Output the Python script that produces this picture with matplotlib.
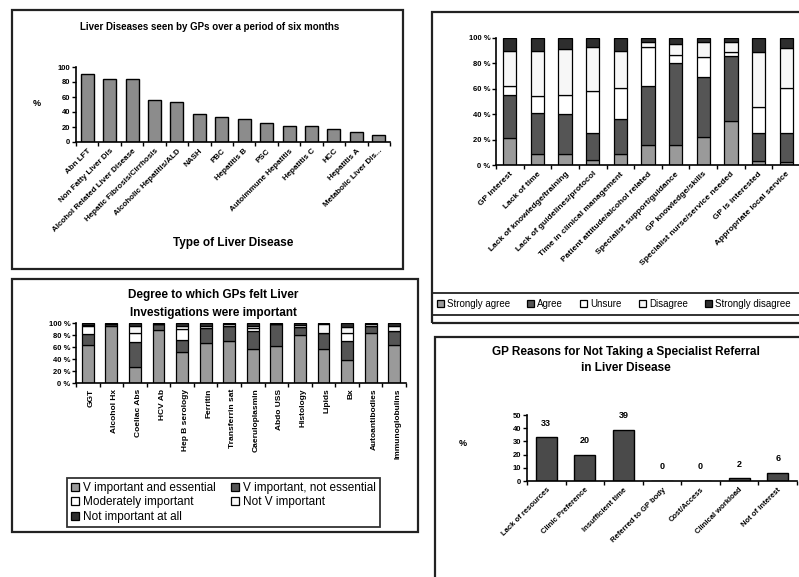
import numpy as np
import matplotlib.pyplot as plt
from matplotlib.patches import Rectangle, Patch

plt.rcParams['font.family'] = ['Liberation Sans', 'DejaVu Sans']

W, H = 799, 577

# panel 1: liver diseases seen
disease_labels = ['Abn LFT', 'Non Fatty Liver Dis', 'Alcohol Related Liver Disease',
                  'Hepatic Fibrosis/Cirrhosis', 'Alcoholic Hepatitis/ALD', 'NASH', 'PBC',
                  'Hepatitis B', 'PSC', 'Autoimmune Hepatitis', 'Hepatitis C', 'HCC',
                  'Hepatitis A', 'Metabolic Liver Dis...']
disease_pct = [91, 84, 84, 56, 54, 38, 34, 31, 26, 21, 21, 17, 13, 9]

# panel 2: agreement with statements
stmt_labels = ['GP interest', 'Lack of time', 'Lack of knowledge/training',
               'Lack of guidelines/protocol', 'Time in clinical management',
               'Patient attitude/alcohol related', 'Specialist support/guidance',
               'GP knowledge/skills', 'Specialist nurse/service needed',
               'GP is interested', 'Appropriate local service']
agree_levels = ['Strongly agree', 'Agree', 'Unsure', 'Disagree', 'Strongly disagree']
strongly_agree = [21, 9, 9, 4, 9, 16, 16, 22, 35, 3, 2]
agree = [34, 32, 31, 21, 27, 46, 64, 47, 51, 22, 23]
unsure = [7, 13, 15, 33, 25, 31, 7, 16, 3, 21, 36]
disagree = [28, 36, 36, 35, 29, 4, 8, 12, 8, 43, 31]
strongly_disagree = [10, 10, 9, 7, 10, 3, 5, 3, 3, 11, 8]

# panel 3: importance of investigations
invest_labels = ['GGT', 'Alcohol Hx', 'Coeliac Abs', 'HCV Ab', 'Hep B serology',
                 'Ferritin', 'Transferrin sat', 'Caeruloplasmin', 'Abdo USS',
                 'Histology', 'Lipids', 'Bx', 'Autoantibodies', 'Immunoglobulins']
imp_levels = ['V important and essential', 'V important, not essential',
              'Moderately important', 'Not V important', 'Not important at all']
v_essential = [64, 95, 27, 89, 51, 67, 70, 57, 61, 80, 57, 39, 84, 64]
v_not_essential = [17, 3, 42, 9, 21, 24, 25, 29, 37, 13, 26, 31, 11, 22]
moderately = [14, 0, 15, 0, 18, 0, 0, 5, 0, 0, 0, 14, 0, 0]
not_v = [2, 0, 11, 0, 5, 4, 3, 4, 0, 4, 15, 9, 3, 9]
not_at_all = [3, 2, 5, 2, 5, 5, 2, 5, 2, 3, 2, 7, 2, 5]

# panel 4: reasons for not referring
reason_labels = ['Lack of resources', 'Clinic Preference', 'Insufficient time',
                 'Referred to GP body', 'Cost/Access', 'Clinical workload',
                 'Not of interest']
reason_pct = [33, 20, 39, 0, 0, 2, 6]

LIGHT = '#9a9a9a'
DARK = '#555555'
BLACK = '#2e2e2e'

fig = plt.figure(figsize=(W / 100, H / 100), dpi=100)


def px_axes(x0, y0, x1, y1):
    return fig.add_axes([x0 / W, 1 - y1 / H, (x1 - x0) / W, (y1 - y0) / H])


def px_box(x0, y0, x1, y1, lw=1.6):
    fig.add_artist(Rectangle((x0 / W, 1 - y1 / H), (x1 - x0) / W, (y1 - y0) / H,
                             transform=fig.transFigure, fill=False, lw=lw, ec='#222222'))


def px_text(x, y, s, **kw):
    fig.text(x / W, 1 - y / H, s, **kw)


def excel_axes(ax, labels, rot, size, ha='right'):
    n = len(labels)
    for s in ['top', 'right']:
        ax.spines[s].set_visible(False)
    for s in ['left', 'bottom']:
        ax.spines[s].set_linewidth(1.2)
    ax.set_xlim(0, n)
    ax.set_xticks(np.arange(n + 1))
    ax.set_xticklabels([])
    ax.set_xticks(np.arange(n) + 0.5, minor=True)
    ax.set_xticklabels(labels, minor=True, rotation=rot, ha=ha,
                       rotation_mode='anchor', fontsize=size, fontweight='bold')
    ax.tick_params(axis='x', which='minor', length=0, pad=4)
    ax.tick_params(axis='x', which='major', length=3, direction='out', width=1)
    ax.tick_params(axis='y', length=3, direction='out', width=1, pad=1)


# ---------- panel 1 ----------
px_box(12, 10, 403, 269)
ax1 = px_axes(76, 67, 390, 142)
x = np.arange(len(disease_pct)) + 0.5
ax1.bar(x, disease_pct, width=0.58, color='#8c8c8c', edgecolor='black', lw=1)
excel_axes(ax1, disease_labels, 45, 5.8)
ax1.set_ylim(0, 100)
ax1.set_yticks(range(0, 101, 20))
ax1.set_yticklabels([str(v) for v in range(0, 101, 20)], fontsize=5.5, fontweight='bold')
px_text(210, 27, 'Liver Diseases seen by GPs over a period of six months',
        ha='center', va='center', fontsize=7, fontweight='bold')
px_text(37, 103, '%', ha='center', va='center', fontsize=6.5, fontweight='bold')
px_text(233, 243, 'Type of Liver Disease', ha='center', va='center',
        fontsize=8.5, fontweight='bold')

# ---------- panel 2 ----------
px_box(432, 12, 830, 323)
px_box(432, 293, 830, 315, lw=1.3)
ax2 = px_axes(496, 38, 800, 165)
x = np.arange(len(stmt_labels)) + 0.5
series2 = [strongly_agree, agree, unsure, disagree, strongly_disagree]
colors2 = [LIGHT, DARK, 'white', '#f7f7f7', BLACK]
bottom = np.zeros(len(stmt_labels))
for vals, col, lab in zip(series2, colors2, agree_levels):
    ax2.bar(x, vals, bottom=bottom, width=0.48, color=col, edgecolor='black',
            lw=0.9, label=lab)
    bottom += np.array(vals)
excel_axes(ax2, stmt_labels, 45, 6)
ax2.set_ylim(0, 100)
ax2.set_yticks(range(0, 101, 20))
ax2.set_yticklabels([f'{v} %' for v in range(0, 101, 20)], fontsize=5.5, fontweight='bold')
h2, l2 = ax2.get_legend_handles_labels()
fig.legend(h2, l2, loc='center left', bbox_to_anchor=(437 / W, 1 - 304 / H), ncol=5,
           frameon=False, fontsize=7, handlelength=0.7, handleheight=0.7,
           handletextpad=0.3, columnspacing=1.8, borderaxespad=0, borderpad=0)

# ---------- panel 3 ----------
px_box(12, 279, 418, 532)
ax3 = px_axes(76, 323, 406, 383)
x = np.arange(len(invest_labels)) + 0.5
series3 = [v_essential, v_not_essential, moderately, not_v, not_at_all]
colors3 = [LIGHT, DARK, 'white', '#f7f7f7', BLACK]
bottom = np.zeros(len(invest_labels))
for vals, col, lab in zip(series3, colors3, imp_levels):
    ax3.bar(x, vals, bottom=bottom, width=0.5, color=col, edgecolor='black',
            lw=0.9, label=lab)
    bottom += np.array(vals)
excel_axes(ax3, invest_labels, 90, 6)
ax3.set_ylim(0, 100)
ax3.set_yticks(range(0, 101, 20))
ax3.set_yticklabels([f'{v} %' for v in range(0, 101, 20)], fontsize=5.5, fontweight='bold')
px_text(213, 295, 'Degree to which GPs felt Liver', ha='center', va='center',
        fontsize=8.5, fontweight='bold')
px_text(213, 313, 'Investigations were important', ha='center', va='center',
        fontsize=8.5, fontweight='bold')
h3, l3 = ax3.get_legend_handles_labels()
order = [0, 2, 4, 1, 3]
leg3 = fig.legend([h3[i] for i in order], [l3[i] for i in order], loc='upper left',
                  bbox_to_anchor=(67 / W, 1 - 478 / H), ncol=2, fontsize=8.5,
                  frameon=True, fancybox=False, edgecolor='black',
                  handlelength=0.7, handleheight=0.7, handletextpad=0.3,
                  columnspacing=1.3, borderpad=0.35, labelspacing=0.2, borderaxespad=0)
leg3.get_frame().set_linewidth(1.3)

# ---------- panel 4 ----------
px_box(435, 337, 830, 600)
ax4 = px_axes(527, 415, 797, 481)
x = np.arange(len(reason_pct)) + 0.5
bars = ax4.bar(x, reason_pct, width=0.55, color='#4a4a4a', edgecolor='black', lw=1)
ax4.bar_label(bars, labels=[str(v) for v in reason_pct], padding=7,
              fontsize=6.5, fontweight='bold')
excel_axes(ax4, reason_labels, 45, 5.5)
ax4.set_ylim(0, 50)
ax4.set_yticks(range(0, 51, 10))
ax4.set_yticklabels([str(v) for v in range(0, 51, 10)], fontsize=5.5, fontweight='bold')
px_text(626, 352, 'GP Reasons for Not Taking a Specialist Referral', ha='center',
        va='center', fontsize=8.5, fontweight='bold')
px_text(626, 368, 'in Liver Disease', ha='center', va='center',
        fontsize=8.5, fontweight='bold')
px_text(463, 443, '%', ha='center', va='center', fontsize=6.5, fontweight='bold')

fig.savefig('out.png', dpi=100)
